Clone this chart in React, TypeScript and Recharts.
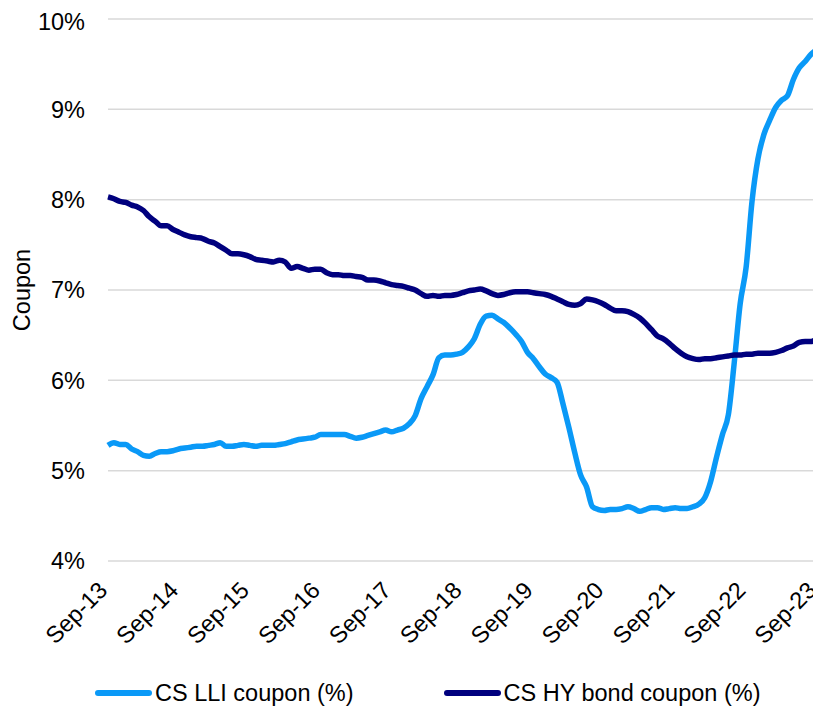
import React from "react";
import { LineChart, Line, XAxis, YAxis, CartesianGrid, Legend } from "recharts";

// monthly, Sep-13 .. Sep-23
const tickLabels = [
  "Sep-13", "Sep-14", "Sep-15", "Sep-16", "Sep-17", "Sep-18",
  "Sep-19", "Sep-20", "Sep-21", "Sep-22", "Sep-23",
];

const lliCoupon = [
  5.28, 5.31, 5.29, 5.29, 5.24, 5.21, 5.17, 5.16, 5.19, 5.21, 5.21, 5.22,
  5.24, 5.25, 5.26, 5.27, 5.27, 5.28, 5.29, 5.31, 5.27, 5.27, 5.28, 5.29,
  5.28, 5.27, 5.28, 5.28, 5.28, 5.29, 5.30, 5.32, 5.34, 5.35, 5.36, 5.37,
  5.40, 5.40, 5.40, 5.40, 5.40, 5.38, 5.36, 5.37, 5.39, 5.41, 5.43, 5.45,
  5.43, 5.45, 5.47, 5.52, 5.61, 5.80, 5.93, 6.06, 6.25, 6.28, 6.28, 6.29,
  6.31, 6.37, 6.46, 6.62, 6.71, 6.72, 6.68, 6.64, 6.58, 6.51, 6.43, 6.31,
  6.24, 6.15, 6.07, 6.03, 5.98, 5.74, 5.48, 5.20, 4.95, 4.82, 4.60, 4.57,
  4.56, 4.57, 4.57, 4.58, 4.60, 4.58, 4.55, 4.57, 4.59, 4.59, 4.57, 4.58,
  4.59, 4.58, 4.58, 4.60, 4.63, 4.70, 4.88, 5.15, 5.40, 5.62, 6.20, 6.85,
  7.25, 7.98, 8.45, 8.72, 8.88, 9.02, 9.10, 9.15, 9.33, 9.46, 9.53, 9.61,
  9.66,
];

const hyCoupon = [
  8.03, 8.01, 7.98, 7.97, 7.94, 7.92, 7.88, 7.81, 7.76, 7.71, 7.71, 7.67,
  7.64, 7.61, 7.59, 7.58, 7.57, 7.54, 7.52, 7.48, 7.44, 7.40, 7.40, 7.39,
  7.37, 7.34, 7.33, 7.32, 7.31, 7.33, 7.31, 7.24, 7.26, 7.24, 7.22, 7.23,
  7.23, 7.19, 7.17, 7.17, 7.16, 7.16, 7.15, 7.14, 7.11, 7.11, 7.10, 7.08,
  7.06, 7.05, 7.04, 7.02, 7.00, 6.96, 6.93, 6.94, 6.93, 6.94, 6.94, 6.95,
  6.97, 6.99, 7.00, 7.01, 6.99, 6.96, 6.94, 6.95, 6.97, 6.98, 6.98, 6.98,
  6.97, 6.96, 6.95, 6.93, 6.90, 6.87, 6.84, 6.83, 6.85, 6.90, 6.89, 6.87,
  6.84, 6.80, 6.77, 6.77, 6.76, 6.73, 6.69, 6.63, 6.56, 6.49, 6.46, 6.41,
  6.35, 6.30, 6.26, 6.24, 6.23, 6.24, 6.24, 6.25, 6.26, 6.27, 6.28, 6.28,
  6.29, 6.29, 6.30, 6.30, 6.30, 6.31, 6.33, 6.36, 6.38, 6.42, 6.43, 6.43,
  6.46,
];

const yTicks = [4, 5, 6, 7, 8, 9, 10];

const LLI_COLOR = "#0A99F7";
const HY_COLOR = "#00007E";
const FONT = "'Liberation Sans', Arial, sans-serif";
const FONT_SIZE = 23.5;

const data = lliCoupon.map((v, i) => ({ idx: i, lli: v, hy: hyCoupon[i] }));
const xTicks = tickLabels.map((_, i) => i * 12);

function XTick(props: any) {
  const { x, y, payload } = props;
  const tx = x - 11;
  const ty = y + 11;
  return (
    <text
      x={tx}
      y={ty}
      dy="0.71em"
      textAnchor="end"
      transform={`rotate(-45, ${tx}, ${ty})`}
      fill="#000"
      fontSize={FONT_SIZE}
      fontFamily={FONT}
    >
      {tickLabels[payload.value / 12]}
    </text>
  );
}

function LegendContent() {
  const items = [
    { name: "CS LLI coupon (%)", color: LLI_COLOR },
    { name: "CS HY bond coupon (%)", color: HY_COLOR },
  ];
  return (
    <div
      style={{
        display: "flex",
        alignItems: "center",
        boxSizing: "border-box",
        paddingLeft: 87,
        paddingTop: 4,
        height: 30,
        fontFamily: FONT,
        fontSize: FONT_SIZE,
        color: "#000",
      }}
    >
      {items.map((it, i) => (
        <div
          key={it.name}
          style={{ display: "flex", alignItems: "center", marginLeft: i === 0 ? 0 : 90 }}
        >
          <div
            style={{
              width: 57,
              height: 6,
              borderRadius: 3,
              background: it.color,
              marginRight: 3,
            }}
          />
          <span style={{ whiteSpace: "nowrap" }}>{it.name}</span>
        </div>
      ))}
    </div>
  );
}

export default function App() {
  return (
    <LineChart
      width={813}
      height={698}
      data={data}
      margin={{ top: 11, right: 4, bottom: 0, left: 0 }}
    >
      <CartesianGrid vertical={false} stroke="#D9D9D9" strokeWidth={1.5} />
      <XAxis
        dataKey="idx"
        type="number"
        domain={[0, 120]}
        ticks={xTicks}
        interval={0}
        axisLine={false}
        tickLine={false}
        height={115}
        tick={<XTick />}
      />
      <YAxis
        type="number"
        domain={[4, 10]}
        ticks={yTicks}
        width={100}
        axisLine={false}
        tickLine={false}
        tickMargin={17}
        tickFormatter={(v) => `${v}%`}
        tick={{ fill: "#000", fontSize: FONT_SIZE, fontFamily: FONT }}
        label={{
          value: "Coupon",
          angle: -90,
          position: "insideLeft",
          offset: 14,
          style: { fill: "#000", fontSize: FONT_SIZE, fontFamily: FONT, textAnchor: "middle" },
        }}
      />
      <Legend
        verticalAlign="bottom"
        content={<LegendContent />}
        wrapperStyle={{ left: 0, width: 813 }}
      />
      <Line
        type="monotone"
        dataKey="lli"
        stroke={LLI_COLOR}
        strokeWidth={5.5}
        dot={false}
        isAnimationActive={false}
      />
      <Line
        type="monotone"
        dataKey="hy"
        stroke={HY_COLOR}
        strokeWidth={5.5}
        dot={false}
        isAnimationActive={false}
      />
    </LineChart>
  );
}
